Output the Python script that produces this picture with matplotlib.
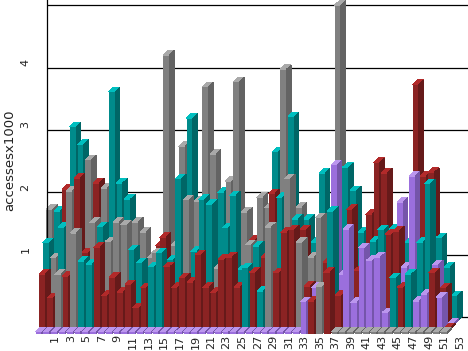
import matplotlib
matplotlib.use('Agg')
import matplotlib.pyplot as plt
from matplotlib.patches import Polygon

# accesses/1000 per position, one list per depth row (front to back)
row0 = [0, 0, 0, 0, 0, 0, 0, 0, 0, 0, 0, 0, 0, 0, 0, 0, 0, 0, 0, 0, 0, 0, 0, 0, 0, 0,
        0, 0, 0, 0, 0, 0, 0, 0, .51, .52, .75, .98, 0, 0, 0, 0, 0, 0, 0, 0, 0, 0, 0, 0, 0, 0, 0]
row1 = [.88, .50, .88, .85, 1.54, 1.09, 1.04, 1.31, .54, .83,
        .59, .71, .34, .66, 1.0, 1.22, 1.0, .67, .82, .75,
        1.19, .67, .59, 1.12, 1.15, .67, .98, .91, .61, 1.63,
        .9, 1.55, 1.59, 1.39, .69, .67, .5, 1.89, .54, 1.6,
        .43, 1.3, 1.1, 1.15, .26, .82, .67, .88, .45, .56,
        .9, .51, 0]
row2 = [1.31, 1.07, 1.56, 2.14, 2.35, 1.15, 1.64, 1.57, 1.33, 1.64,
        1.6, 1.2, .99, .5, 1.15, 1.4, 1.04, 2.34, 2.0, 1.18,
        2.01, 1.93, .9, 1.55, 2.07, .88, 1.28, 1.26, 1.08, 2.1,
        2.04, 2.34, 1.69, 1.52, 1.08, 1.71, 1.0, 2.56, .8, 1.85,
        .87, .9, 1.34, 1.52, 1.45, 1.5, .92, 2.38, 1.32, 2.26,
        .96, .59, 0]
row3 = [1.78, 1.75, 2.1, 3.1, 2.82, 2.57, 2.2, 2.12, 3.66, 2.2,
        1.94, 1.57, 1.41, 1.0, 1.2, 4.25, 1.2, 2.79, 3.24, 1.91,
        3.74, 2.66, 2.05, 2.23, 3.82, 1.73, 1.28, 1.97, 1.8, 2.7,
        4.02, 3.26, 1.81, 1.62, 1.25, 2.36, .9, 5.05, 2.45, 2.08,
        1.41, 1.7, 2.53, 2.36, 1.46, 1.89, 1.25, 3.78, 2.31, 2.37,
        1.32, .85, .39]

# which group each bar belongs to: r, t, g, p
groups0 = 'ppppppppppppppppppppppppppppppppppprgrggggggggggggggg'
groups1 = 'rrgrgttrrr' 'rrrrttrrrr' 'rrrrrrtrtg' 'rrrgrpgtrp' 'ppppptrtpp' 'rpr'
groups2 = 'tgtgrrgtgg' 'gttggrttgt' 'ttgtttgtrr' 'tgtrggrppr' 'rrttrrpptt' 'prp'
groups3 = 'gtrttgrgtt' 'tgggrgggtg' 'ggtgggrggt' 'gtgttttgtt' 'trrrtptrrr' 'ttt'

xticklabels = [str(n) for n in range(1, 54, 2)]
ygrid = [0, 1, 2, 3, 4, 5]
yticklabels = ['1', '2', '3', '4']

# face, top, side
colors = {'r': ('#8b2323', '#b22a2a', '#661a1a'),
          't': ('#008b8b', '#00bfbf', '#006666'),
          'g': ('#808080', '#a9a9a9', '#636363'),
          'p': ('#9b6fdd', '#bb96ee', '#7555aa')}

W, H = 468, 351
px_x = 7.79
px_y = 62.4
x0 = 38.8    # pixel of position 0
y0 = 333.5   # pixel of value 0, front row

row_dx = 3.6 / px_x
row_dy = 4.4 / px_y
side_dx = 4.6 / px_x
side_dy = 4.5 / px_y
bar_w = 6.3 / px_x
min_h = 1.5 / px_y

fig = plt.figure(figsize=(W / 100, H / 100), dpi=100)
ax = fig.add_axes([47 / W, (H - y0) / H, (W - 47) / W, y0 / H])
ax.set_xlim((47 - x0) / px_x, (W - x0) / px_x)
ax.set_ylim(0, y0 / px_y)

wall = 3 * row_dy + 3.2 / px_y
ax.hlines([v + wall for v in ygrid], (47 - x0) / px_x, (W - x0) / px_x,
          color='black', lw=0.9, zorder=1)

z = 2
rows = [(row0, groups0), (row1, groups1), (row2, groups2), (row3, groups3)]
for r in [3, 2, 1, 0]:
    values, groups = rows[r]
    for k in range(len(values)):
        v = max(values[k], min_h)
        c = colors[groups[k]]
        xl = k + r * row_dx - bar_w / 2
        xr = xl + bar_w
        base = r * row_dy
        top = base + v
        ax.bar(xl, v, width=bar_w, bottom=base, align='edge', color=c[0],
               linewidth=0, antialiased=False, clip_on=False, zorder=z)
        ax.add_patch(Polygon([(xl, top), (xr, top), (xr + side_dx, top + side_dy),
                              (xl + side_dx, top + side_dy)], closed=True, facecolor=c[1],
                             linewidth=0, antialiased=False, clip_on=False, zorder=z))
        ax.add_patch(Polygon([(xr, base), (xr + side_dx, base + side_dy),
                              (xr + side_dx, top + side_dy), (xr, top)], closed=True,
                             facecolor=c[2], linewidth=0, antialiased=False,
                             clip_on=False, zorder=z))
        z += 1

for s in ['top', 'right', 'bottom']:
    ax.spines[s].set_visible(False)
ax.spines['left'].set_linewidth(0.9)
ax.spines['left'].set_bounds(wall, y0 / px_y)

ax.set_xticks([n + 1.1 for n in range(1, 54, 2)])
ax.set_xticklabels(xticklabels, rotation=90, fontsize=8, color='#222222')
ax.tick_params(axis='x', length=0, pad=1)
ax.set_yticks([v + wall + 5 / px_y for v in [1, 2, 3, 4]])
ax.set_yticklabels(yticklabels, rotation=90, va='center', fontsize=8, color='#222222')
ax.tick_params(axis='y', length=0, pad=12)
fig.text(10 / W, 1 - 160 / H, 'accessesx1000', rotation=90, ha='center', va='center',
         fontsize=9.5, color='#222222')

fig.savefig('out.png', dpi=100)
